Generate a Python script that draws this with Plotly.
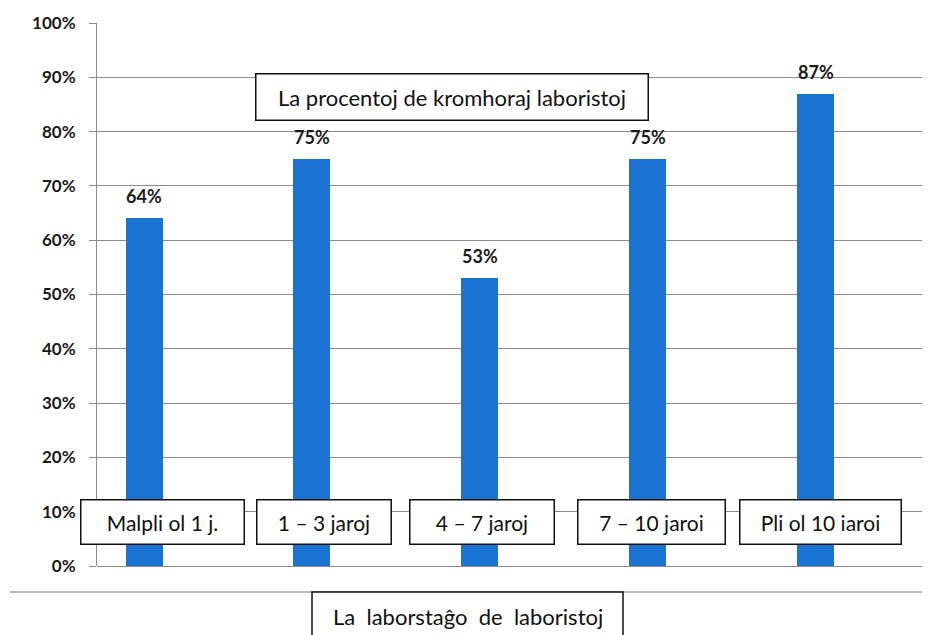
import plotly.graph_objects as go

categories = ["Malpli ol 1 j.", "1 – 3 jaroj", "4 – 7 jaroj", "7 – 10 jaroi", "Pli ol 10 iaroi"]
values = [64, 75, 53, 75, 87]
value_labels = ["64%", "75%", "53%", "75%", "87%"]
y_ticks = [0, 10, 20, 30, 40, 50, 60, 70, 80, 90, 100]
y_tick_labels = [f"{v}%" for v in y_ticks]
title_text = "La procentoj de kromhoraj laboristoj"
xaxis_text = "La laborstaĝo de laboristoj"

FONT = "Lato"
BLUE = "#1a72d2"
GRID = "#8a8a8a"

# page has an 8px body margin; figure is placed so the plot matches the 930x635 view
W, H = 922, 627
L, T, B = 89, 15, 69
PH = H - T - B  # plot height in px
PW = W - L


def px_x(page_x):
    return (page_x - 8 - L) / PW


def px_y(page_y):
    return (H - B - (page_y - 8)) / PH


x = list(range(len(categories)))

fig = go.Figure()
fig.add_trace(go.Bar(x=x, y=values, width=0.22, marker=dict(color=BLUE, line=dict(width=0)),
                     hoverinfo="skip"))

# value labels above bars
for xi, v, lab in zip(x, values, value_labels):
    fig.add_annotation(x=xi, y=v, text=lab, showarrow=False, yshift=22,
                       yanchor="middle", xanchor="center",
                       font=dict(family=FONT, size=18, color="#1a1a1a", weight="bold"))

# category boxes (the x tick labels drawn inside the plot)
box_widths = [166, 137, 147, 150, 164]
box_shift = [18, 12, 2, 4, 5]
for xi, cat, w, s in zip(x, categories, box_widths, box_shift):
    fig.add_annotation(x=xi, y=8.1, text=cat, showarrow=False, xshift=s,
                       yanchor="middle", xanchor="center",
                       width=w - 4, height=43, bgcolor="white",
                       bordercolor="#111", borderwidth=1.5, borderpad=0,
                       font=dict(family=FONT, size=21, color="#111"))

# title box
fig.add_annotation(xref="paper", yref="paper", x=px_x(452), y=px_y(97),
                   xanchor="center", yanchor="middle",
                   text=title_text, showarrow=False, width=391, height=45,
                   bgcolor="white", bordercolor="#111", borderwidth=1.5, borderpad=0,
                   font=dict(family=FONT, size=22, color="#111"))

# bottom separator line and axis-title box
fig.add_shape(type="line", xref="paper", yref="paper",
              x0=px_x(10), x1=1, y0=px_y(592), y1=px_y(592),
              line=dict(color="#777", width=1))
fig.add_shape(type="rect", xref="paper", yref="paper",
              x0=px_x(312), x1=px_x(623), y0=px_y(592), y1=px_y(660),
              line=dict(color="#111", width=1.5), fillcolor="white")
fig.add_annotation(xref="paper", yref="paper", x=px_x(467.5), y=px_y(616),
                   xanchor="center", yanchor="middle",
                   text=xaxis_text.replace(" ", "\u00a0\u00a0"), showarrow=False,
                   font=dict(family=FONT, size=22, color="#111"))

fig.update_layout(
    width=W, height=H,
    margin=dict(l=L, r=0, t=T, b=B),
    paper_bgcolor="white", plot_bgcolor="white",
    showlegend=False, bargap=0,
    xaxis=dict(range=[-0.28, 4.68], showticklabels=False, showgrid=False,
               zeroline=False, showline=False, ticks=""),
    yaxis=dict(range=[0, 100], tickvals=y_ticks, ticktext=y_tick_labels,
               showgrid=True, gridcolor=GRID, gridwidth=1,
               zeroline=True, zerolinecolor=GRID, zerolinewidth=1,
               showline=True, linecolor=GRID, linewidth=1,
               ticks="outside", ticklen=7, tickcolor=GRID,
               ticklabelstandoff=10,
               tickfont=dict(family=FONT, size=17, color="#1a1a1a", weight="bold")),
)
fig.write_html("out.html")
